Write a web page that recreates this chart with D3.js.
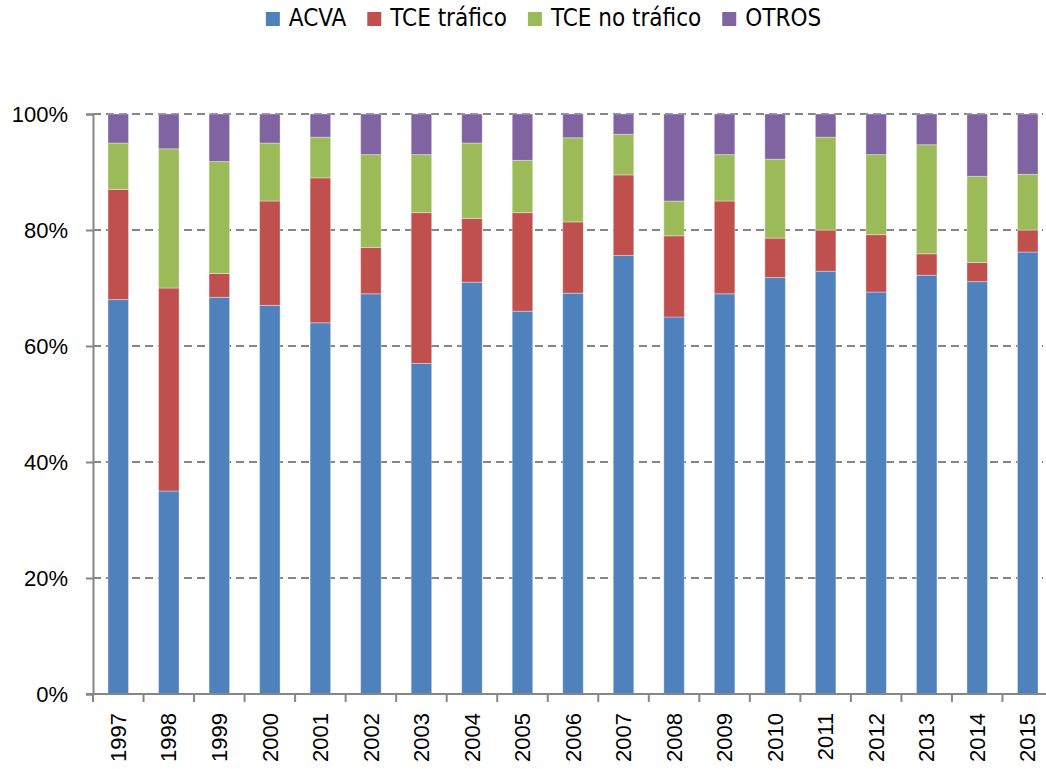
<!DOCTYPE html>
<html>
<head>
<meta charset="utf-8">
<script src="https://cdn.jsdelivr.net/npm/d3@7"></script>
<style>
  body { margin: 0; background: #fff; }
  svg { display: block; }
</style>
</head>
<body>
<div id="chart"></div>
<script>
// values (percent of each year)
var years = ["1997","1998","1999","2000","2001","2002","2003","2004","2005","2006",
             "2007","2008","2009","2010","2011","2012","2013","2014","2015"];
var acva       = [68, 35, 68.4, 67, 64, 69, 57, 71, 66, 69.1, 75.6, 65, 69, 71.8, 72.9, 69.3, 72.2, 71.1, 76.2];
var tceTrafico = [19, 35, 4.1, 18, 25, 8, 26, 11, 17, 12.3, 13.9, 14, 16, 6.8, 7.1, 9.9, 3.7, 3.3, 3.8];
var tceNoTraf  = [8, 24, 19.3, 10, 7, 16, 10, 13, 9, 14.5, 7, 6, 8, 13.6, 16, 13.8, 18.8, 14.85, 9.6];
var otros      = [5, 6, 8.2, 5, 4, 7, 7, 5, 8, 4.1, 3.5, 15, 7, 7.8, 4, 7, 5.3, 10.75, 10.4];
var seriesNames = ["ACVA", "TCE tráfico", "TCE no tráfico", "OTROS"];
var yTicks = [0, 20, 40, 60, 80, 100];

var colors = ["#4F81BD", "#C0504D", "#9BBB59", "#8064A2"];
var keys = ["acva", "tceT", "tceNT", "otros"];

var rows = years.map(function(y, i) {
  return { year: y, acva: acva[i], tceT: tceTrafico[i], tceNT: tceNoTraf[i], otros: otros[i] };
});

var W = 1046, H = 769;
var plotLeft = 93, plotRight = 1053, plotTop = 114, plotBottom = 694;

var svg = d3.select("#chart").append("svg")
  .attr("width", W)
  .attr("height", H);

var x = d3.scaleBand()
  .domain(years)
  .range([plotLeft, plotRight])
  .paddingInner(0.594)
  .paddingOuter(0.297);

var y = d3.scaleLinear()
  .domain([0, 100])
  .range([plotBottom, plotTop]);

// dashed gridlines
svg.selectAll(".grid")
  .data(yTicks.filter(function(d) { return d > 0; }))
  .enter().append("line")
  .attr("class", "grid")
  .attr("x1", plotLeft)
  .attr("x2", 1043)
  .attr("y1", function(d) { return y(d); })
  .attr("y2", function(d) { return y(d); })
  .attr("stroke", "#868686")
  .attr("stroke-width", 2)
  .attr("stroke-dasharray", "8,5");

// stacked bars
var stacked = d3.stack().keys(keys)(rows);

svg.selectAll(".layer")
  .data(stacked)
  .enter().append("g")
  .attr("class", "layer")
  .attr("fill", function(d, i) { return colors[i]; })
  .selectAll("rect")
  .data(function(d) { return d; })
  .enter().append("rect")
  .attr("x", function(d) { return x(d.data.year); })
  .attr("width", x.bandwidth())
  .attr("y", function(d) { return y(d[1]); })
  .attr("height", function(d) { return y(d[0]) - y(d[1]); })
  .attr("stroke", "#ffffff")
  .attr("stroke-opacity", 0.35)
  .attr("stroke-width", 1);

// y axis
var yAxis = d3.axisLeft(y)
  .tickValues(yTicks)
  .tickSize(7)
  .tickPadding(18)
  .tickFormat(function(d) { return d + "%"; });

var gy = svg.append("g")
  .attr("transform", "translate(" + plotLeft + ",0)")
  .call(yAxis);
gy.select(".domain").attr("stroke", "#868686").attr("stroke-width", 2);
gy.selectAll(".tick line").attr("stroke", "#868686").attr("stroke-width", 2);
gy.selectAll(".tick text")
  .attr("font-family", "'Liberation Sans', Arial, sans-serif")
  .attr("font-size", 22)
  .attr("fill", "#000");

// x axis with ticks on category boundaries
var gx = svg.append("g")
  .attr("transform", "translate(0," + plotBottom + ")");
gx.append("line")
  .attr("x1", plotLeft - 7)
  .attr("x2", plotRight)
  .attr("stroke", "#868686")
  .attr("stroke-width", 2);
var bounds = years.map(function(d) { return x(d) - x.step() * 0.297; }).concat([plotRight]);
gx.selectAll(".xtick")
  .data(bounds)
  .enter().append("line")
  .attr("class", "xtick")
  .attr("x1", function(d) { return d; })
  .attr("x2", function(d) { return d; })
  .attr("y1", 0)
  .attr("y2", 8)
  .attr("stroke", "#868686")
  .attr("stroke-width", 2);
gx.selectAll(".xlabel")
  .data(years)
  .enter().append("text")
  .attr("class", "xlabel")
  .attr("transform", function(d) {
    return "translate(" + (x(d) + x.bandwidth() / 2) + ",19) rotate(-90)";
  })
  .attr("text-anchor", "end")
  .attr("dy", "0.35em")
  .attr("font-family", "'Liberation Sans', Arial, sans-serif")
  .attr("font-size", 22)
  .attr("fill", "#000")
  .text(function(d) { return d; });

// legend
var legend = svg.append("g").attr("class", "legend");
var lx = 0;
seriesNames.forEach(function(name, i) {
  var g = legend.append("g").attr("transform", "translate(" + lx + ",0)");
  g.append("rect")
    .attr("x", 0)
    .attr("y", 12)
    .attr("width", 14)
    .attr("height", 14)
    .attr("fill", colors[i]);
  var t = g.append("text")
    .attr("x", 23)
    .attr("y", 26)
    .attr("font-family", "'Liberation Sans Narrow', 'DejaVu Sans Condensed', 'Noto Sans', sans-serif")
    .attr("font-stretch", "condensed")
    .attr("font-size", 24)
    .attr("fill", "#000")
    .text(name);
  lx += 23 + t.node().getComputedTextLength() + 21;
});
var legendW = lx - 21;
legend.attr("transform", "translate(" + (543.5 - legendW / 2) + ",0)");
</script>
</body>
</html>
